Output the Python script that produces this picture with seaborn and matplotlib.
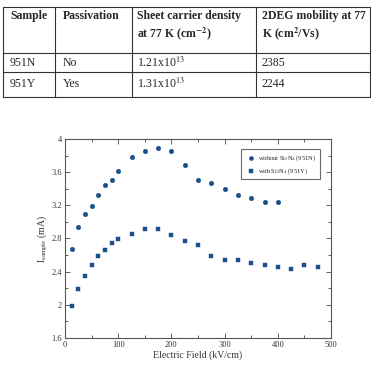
import matplotlib
matplotlib.use('Agg')
import matplotlib.pyplot as plt
import numpy as np
import pandas as pd
import seaborn as sb
from matplotlib.lines import Line2D
from matplotlib.ticker import MultipleLocator

# table contents
table_header = ['Sample', 'Passivation', 'Sheet carrier density\nat 77 K (cm$^{\\mathbf{-2}}$)',
                '2DEG mobility at 77\nK (cm$^{\\mathbf{2}}$/Vs)']
table_samples = ['951N', '951Y']
table_passivation = ['No', 'Yes']
table_density = ['1.21x10$^{13}$', '1.31x10$^{13}$']
table_mobility = ['2385', '2244']

# I-V data
field_951n = [12.5, 25, 37.5, 50, 62.5, 75, 87.5, 100, 125, 150, 175, 200, 225,
              250, 275, 300, 325, 350, 375, 400]
current_951n = [2.67, 2.94, 3.10, 3.19, 3.32, 3.44, 3.50, 3.62, 3.78, 3.85, 3.89, 3.85, 3.69,
                3.51, 3.47, 3.40, 3.33, 3.29, 3.245, 3.245]
field_951y = [12.5, 25, 37.5, 50, 62.5, 75, 87.5, 100, 125, 150, 175, 200, 225,
              250, 275, 300, 325, 350, 375, 400, 425, 450, 475]
current_951y = [1.99, 2.19, 2.35, 2.48, 2.59, 2.66, 2.75, 2.79, 2.86, 2.91, 2.91, 2.84, 2.77,
                2.72, 2.59, 2.54, 2.54, 2.50, 2.48, 2.46, 2.43, 2.48, 2.46]
label_951n = 'without Si$_3$N$_4$ (951N)'
label_951y = 'with Si$_3$N$_4$ (951Y)'

W = H = 371
blue = '#1b4f8a'

sb.set_style('ticks')
plt.rcParams['font.family'] = ['Liberation Serif', 'DejaVu Serif']
plt.rcParams['mathtext.fontset'] = 'stix'

fig = plt.figure(figsize=(3.71, 3.71), dpi=100)


def fx(px):
    return px / W


def fy(py):
    return 1 - py / H


# --- table ---
col_x = [2.7, 55, 131.7, 256, 369.5]
row_y = [6.7, 53.3, 71.7, 96.7]
for x in col_x:
    fig.add_artist(Line2D([fx(x), fx(x)], [fy(row_y[0]), fy(row_y[-1])], color='#333333', lw=0.8))
for y in row_y:
    fig.add_artist(Line2D([fx(col_x[0]), fx(col_x[-1])], [fy(y), fy(y)], color='#333333', lw=0.8))

text_x = [10, 63, 137, 262]
for tx, h in zip(text_x, table_header):
    fig.text(fx(tx), fy(10), h, fontsize=8.5, fontweight='bold', va='top', ha='left',
             linespacing=1.25)
rows = list(zip(table_samples, table_passivation, table_density, table_mobility))
for ry, row in zip([62.5, 84], rows):
    for tx, val in zip(text_x, row):
        fig.text(fx(tx), fy(ry), val, fontsize=8.5, va='center', ha='left')

# --- chart ---
ax = fig.add_axes([fx(65), fy(338), fx(331) - fx(65), fy(139) - fy(338)])
df_n = pd.DataFrame({'field': field_951n, 'current': current_951n})
df_y = pd.DataFrame({'field': field_951y, 'current': current_951y})
sb.scatterplot(data=df_n, x='field', y='current', ax=ax, marker='o', s=11, color=blue,
               edgecolor=blue, linewidth=0.3, label=label_951n)
sb.scatterplot(data=df_y, x='field', y='current', ax=ax, marker='s', s=11, color=blue,
               edgecolor=blue, linewidth=0.3, label=label_951y)

ax.set_xlim(0, 500)
ax.set_ylim(1.6, 4)
ax.xaxis.set_major_locator(MultipleLocator(100))
ax.xaxis.set_minor_locator(MultipleLocator(50))
ax.yaxis.set_major_locator(MultipleLocator(0.4))
ax.yaxis.set_minor_locator(MultipleLocator(0.2))
ax.set_yticklabels([f'{v:g}' for v in ax.get_yticks()])
ax.tick_params(which='both', direction='in', top=True, right=True, labelsize=6, pad=2,
               colors='#444444', labelcolor='#333333')
ax.tick_params(which='major', length=3.5, width=0.6)
ax.tick_params(which='minor', length=2, width=0.6)
for sp in ax.spines.values():
    sp.set_linewidth(0.8)
    sp.set_color('#555555')
ax.set_xlabel('Electric Field (kV/cm)', fontsize=7, labelpad=1, color='#333333')
ax.set_ylabel('I$_{\\mathregular{sample}}$ (mA)', fontsize=7, labelpad=2, color='#333333')

leg = ax.legend(loc='upper right', fontsize=4.6, frameon=True, fancybox=False,
                borderpad=0.6, handletextpad=0.1, markerscale=0.9,
                bbox_to_anchor=(0.97, 0.965))
leg.get_frame().set_edgecolor('#444444')
leg.get_frame().set_linewidth(0.8)

fig.savefig('out.png', dpi=100)
